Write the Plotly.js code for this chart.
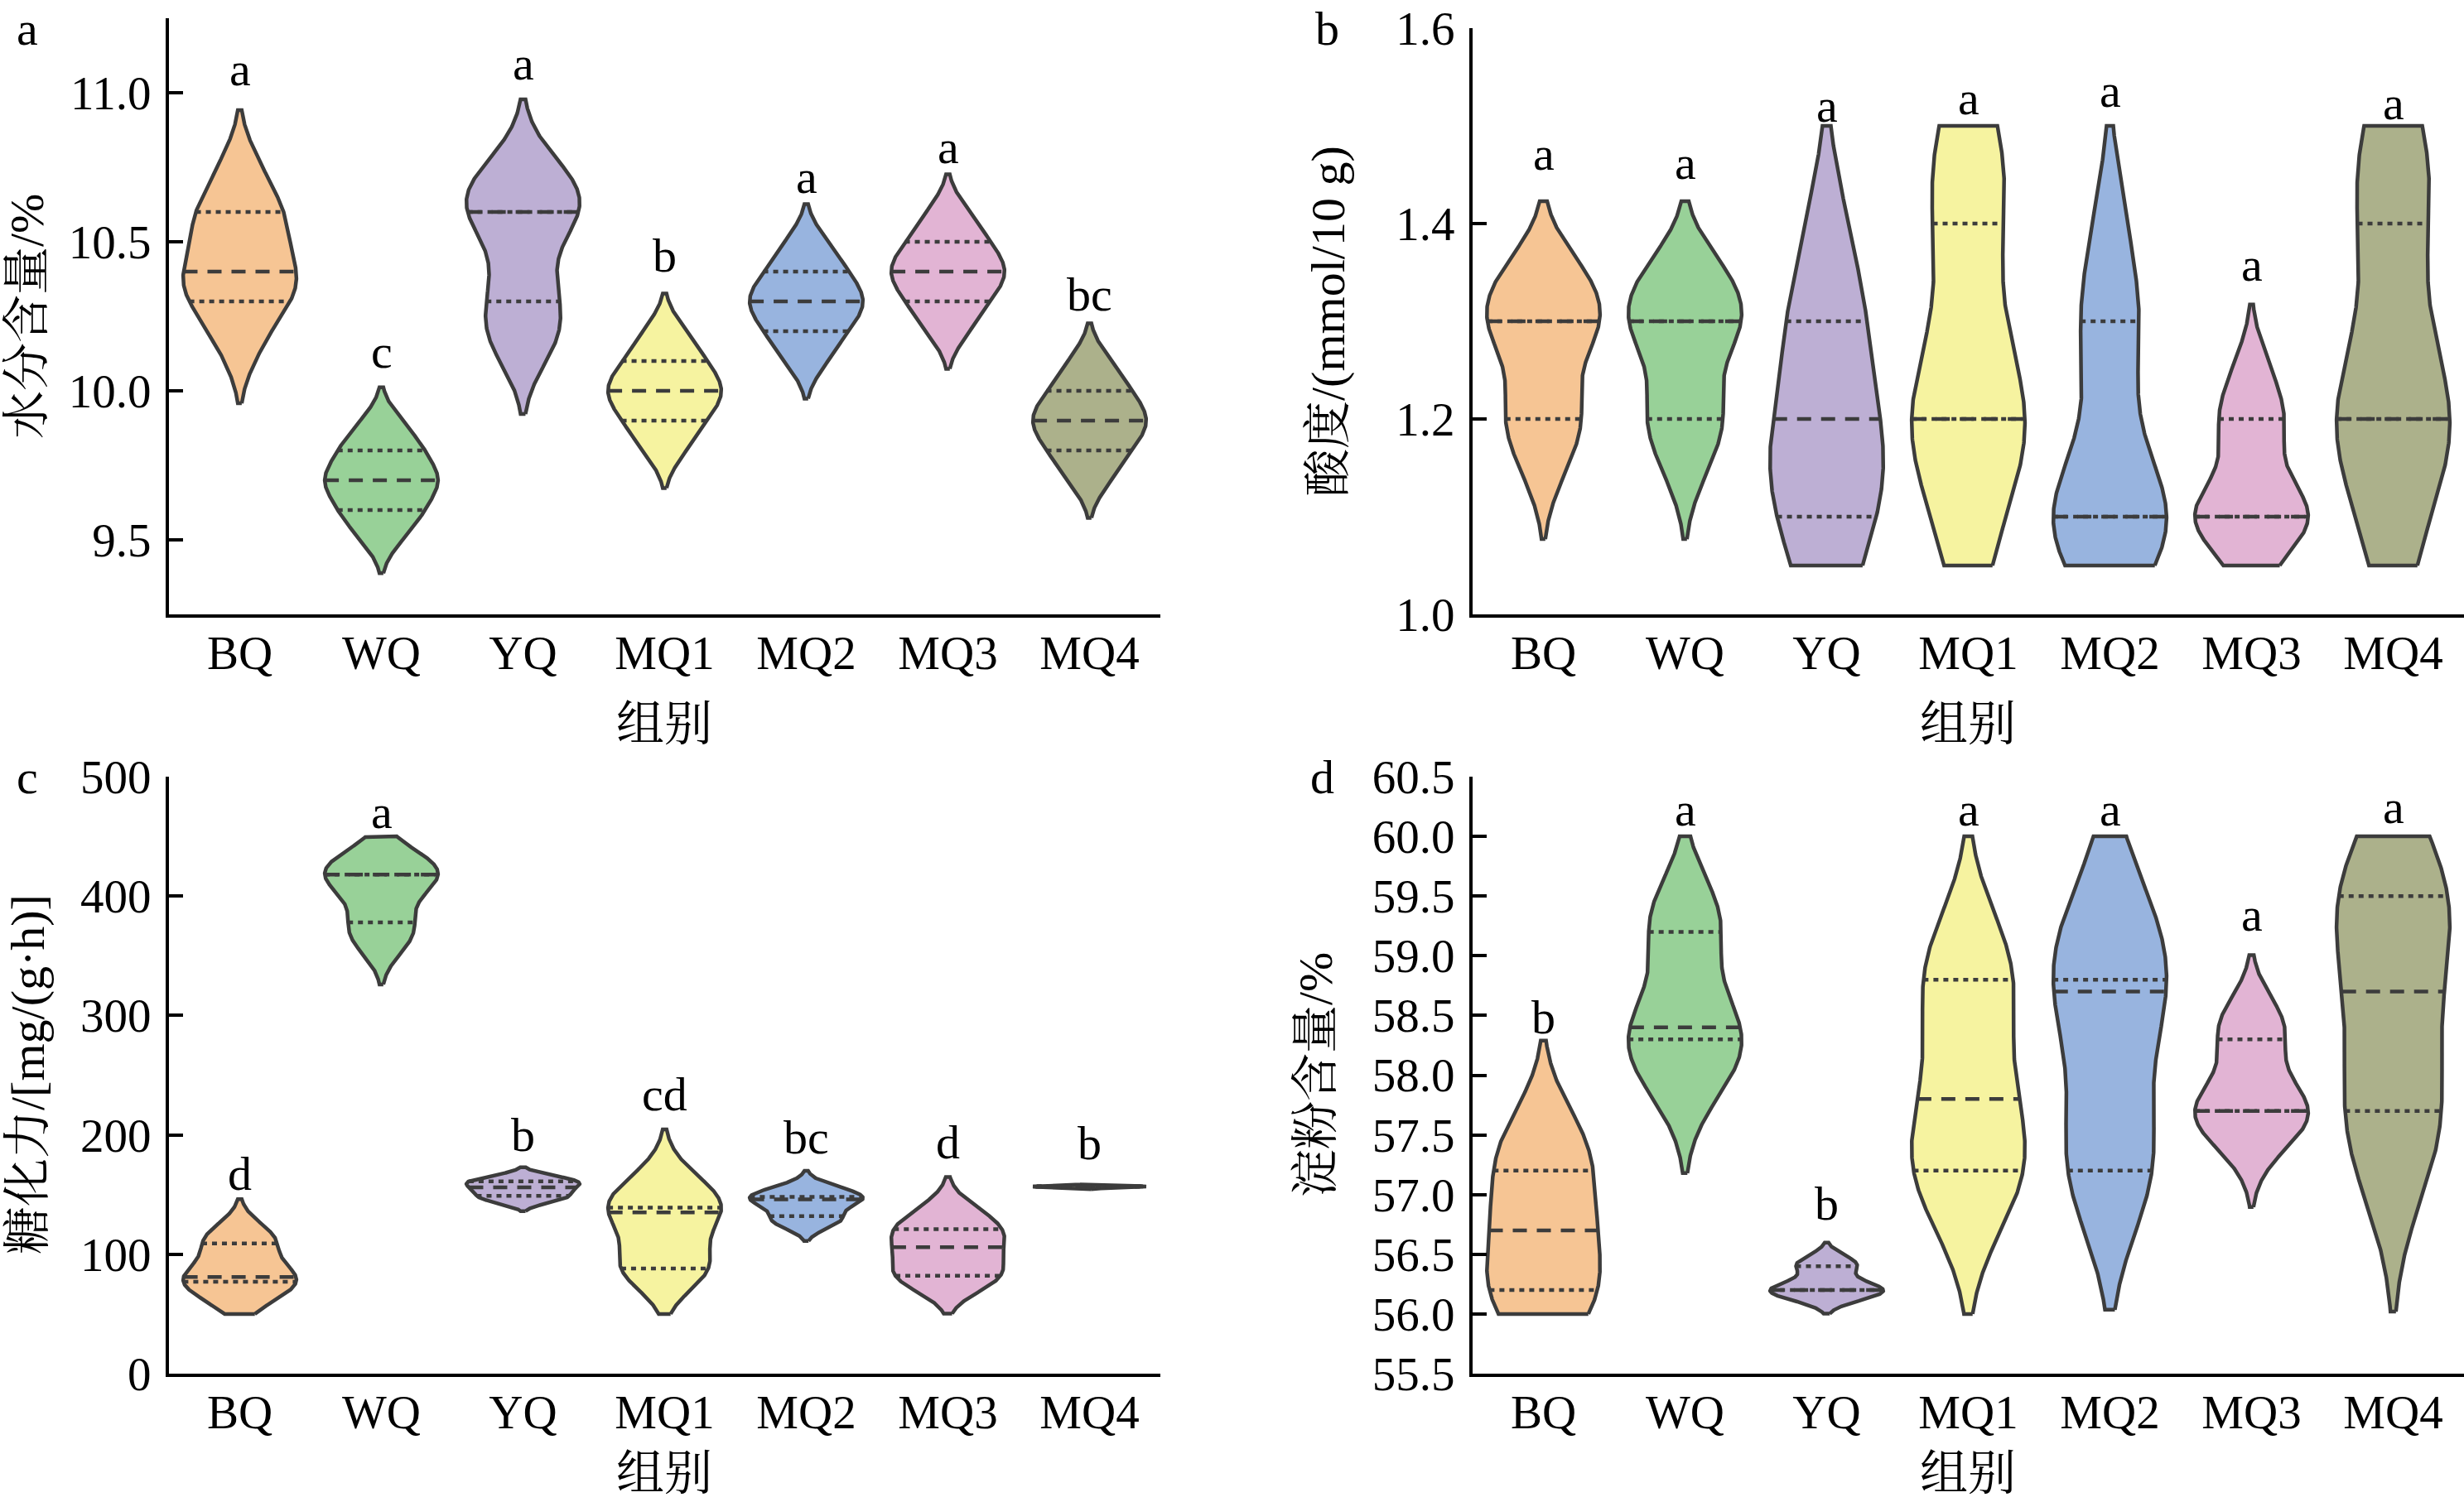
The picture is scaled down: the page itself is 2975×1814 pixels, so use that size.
<!DOCTYPE html>
<html>
<head>
<meta charset="utf-8">
<script src="https://cdn.plot.ly/plotly-3.0.1.min.js"></script>
<style>
html,body{margin:0;padding:0;background:#ffffff;}
#chart{width:2975px;height:1814px;}
</style>
</head>
<body>
<div id="chart"></div>
<script>
// ---------------- data ----------------
const groups = ['BQ', 'WQ', 'YQ', 'MQ1', 'MQ2', 'MQ3', 'MQ4'];

// a: moisture content /%
const moistureData = [
  [10.15, 10.3, 10.3, 10.4, 10.4, 10.5, 10.6, 10.6, 10.75],
  [9.51, 9.6, 9.6, 9.7, 9.7, 9.7, 9.8, 9.8, 9.89],
  [10.15, 10.2, 10.3, 10.4, 10.6, 10.6, 10.6, 10.7, 10.75],
  [9.8, 9.9, 9.9, 10.0, 10.0, 10.0, 10.1, 10.1, 10.2],
  [10.1, 10.2, 10.2, 10.3, 10.3, 10.3, 10.4, 10.4, 10.5],
  [10.2, 10.3, 10.3, 10.4, 10.4, 10.4, 10.5, 10.5, 10.6],
  [9.7, 9.8, 9.8, 9.9, 9.9, 9.9, 10.0, 10.0, 10.1]
];
const moistureLetters = ['a', 'c', 'a', 'b', 'a', 'a', 'bc'];
const moistureLetterY = [11.027, 10.08, 11.048, 10.403, 10.666, 10.766, 10.273];
const moistureTicks = [9.5, 10.0, 10.5, 11.0];

// b: acidity /(mmol/10 g)
const acidityData = [
  [1.15, 1.2, 1.2, 1.25, 1.3, 1.3, 1.3, 1.35, 1.35],
  [1.15, 1.2, 1.2, 1.25, 1.3, 1.3, 1.3, 1.35, 1.35],
  [1.0, 1.1, 1.1, 1.15, 1.2, 1.2, 1.3, 1.3, 1.4],
  [1.05, 1.15, 1.2, 1.2, 1.2, 1.3, 1.4, 1.45, 1.5],
  [1.05, 1.1, 1.1, 1.1, 1.1, 1.2, 1.3, 1.3, 1.4],
  [1.05, 1.1, 1.1, 1.1, 1.1, 1.15, 1.2, 1.2, 1.25],
  [1.05, 1.15, 1.2, 1.2, 1.2, 1.3, 1.4, 1.45, 1.5]
];
const acidityLetters = ['a', 'a', 'a', 'a', 'a', 'a', 'a'];
const acidityLetterY = [1.456, 1.447, 1.505, 1.513, 1.520, 1.342, 1.508];
const acidityTicks = [1.0, 1.2, 1.4, 1.6];

// c: saccharifying power /[mg/(g·h)]
const saccharData = [
  [60, 70, 77, 80, 81, 90, 109, 110, 120],
  [360, 370, 378, 400, 418, 418, 418, 425, 432],
  [145, 147, 149, 153, 156, 158, 161, 162, 164],
  [85, 88, 88, 112, 135, 137, 139, 150, 166],
  [125, 128, 132, 140, 146, 147, 148, 150, 156],
  [78, 80, 82, 95, 106, 112, 121, 125, 137],
  [155.5, 156, 156.5, 156.5, 156.7, 157, 157, 157.5, 158]
];
const saccharLetters = ['d', 'a', 'b', 'cd', 'bc', 'd', 'b'];
const saccharLetterY = [154.8, 458, 187, 221.5, 185, 181, 180];
const saccharTicks = [0, 100, 200, 300, 400, 500];

// d: starch content /%
const starchData = [
  [56.0, 56.1, 56.2, 56.5, 56.7, 56.9, 57.2, 57.4, 57.55],
  [57.9, 58.05, 58.3, 58.3, 58.4, 58.6, 59.2, 59.3, 59.4],
  [56.15, 56.17, 56.2, 56.2, 56.2, 56.25, 56.4, 56.4, 56.45],
  [57.0, 57.1, 57.2, 57.5, 57.8, 58.2, 58.8, 58.9, 59.0],
  [57.2, 57.2, 57.2, 58.0, 58.7, 58.7, 58.8, 59.2, 59.5],
  [57.4, 57.6, 57.7, 57.7, 57.7, 57.9, 58.3, 58.4, 58.5],
  [57.25, 57.5, 57.7, 58.2, 58.7, 59.1, 59.5, 59.6, 59.7]
];
const starchLetters = ['b', 'a', 'b', 'a', 'a', 'a', 'a'];
const starchLetterY = [58.36, 60.1, 56.8, 60.1, 60.1, 59.22, 60.12];
const starchTicks = [55.5, 56.0, 56.5, 57.0, 57.5, 58.0, 58.5, 59.0, 59.5, 60.0, 60.5];

const violinColors = ['#F6C594', '#98D198', '#BDAFD4', '#F6F3A0', '#98B4DF', '#E2B4D4', '#ACB18B'];

// ---------------- style ----------------
const FONT = 'Liberation Serif, "Noto Serif CJK SC", "Noto Sans CJK SC", serif';
const OUTLINE = '#3c3c3c';
const HALF = 0.4;      // half violin width in category units
const CUT = 2;         // kde extends CUT bandwidths beyond the data
const W = 2975, H = 1814;

function quantile(s, p) {
  const pos = (s.length - 1) * p;
  const lo = Math.floor(pos), hi = Math.ceil(pos);
  return s[lo] + (s[hi] - s[lo]) * (pos - lo);
}

function violins(data, ax, clip, adj) {
  const traces = [];
  const xa = 'x' + ax, ya = 'y' + ax;
  data.forEach((vals, i) => {
    const s = vals.slice().sort((a, b) => a - b);
    const n = s.length;
    const mean = s.reduce((a, b) => a + b, 0) / n;
    const sd = Math.sqrt(s.reduce((a, v) => a + (v - mean) * (v - mean), 0) / (n - 1));
    const bw = adj * sd * Math.pow(n, -0.2);
    const lo = Math.max(s[0] - CUT * bw, clip[0]);
    const hi = Math.min(s[n - 1] + CUT * bw, clip[1]);
    const dens = y => s.reduce((a, v) => a + Math.exp(-0.5 * ((y - v) / bw) * ((y - v) / bw)), 0);
    const N = 400, ys = [], ds = [];
    for (let k = 0; k < N; k++) {
      const y = lo + (hi - lo) * k / (N - 1);
      ys.push(y); ds.push(dens(y));
    }
    const dmax = Math.max(...ds);
    const half = d => HALF * d / dmax;
    const px = [], py = [];
    for (let k = 0; k < N; k++) { px.push(i + half(ds[k])); py.push(ys[k]); }
    for (let k = N - 1; k >= 0; k--) { px.push(i - half(ds[k])); py.push(ys[k]); }
    px.push(px[0]); py.push(py[0]);
    traces.push({
      type: 'scatter', mode: 'lines', x: px, y: py, fill: 'toself',
      fillcolor: violinColors[i], line: {color: OUTLINE, width: 4.5},
      xaxis: xa, yaxis: ya, hoverinfo: 'skip', showlegend: false
    });
    [0.25, 0.5, 0.75].forEach(p => {
      const q = quantile(s, p);
      const h = half(dens(q));
      traces.push({
        type: 'scatter', mode: 'lines', x: [i - h, i + h], y: [q, q],
        line: {color: OUTLINE, width: 4.5, dash: p === 0.5 ? '17px,12px' : '6px,6px'},
        xaxis: xa, yaxis: ya, hoverinfo: 'skip', showlegend: false
      });
    });
  });
  return traces;
}

const traces = [].concat(
  violins(moistureData, '', [-Infinity, Infinity], 0.8),
  violins(acidityData, '2', [1.05, 1.5], 0.8),
  violins(saccharData, '3', [50, 450], 1.0),
  violins(starchData, '4', [56, 60], 1.0)
);

const colL = [204 / W, 1401 / W], colR = [1778 / W, 1];
const rowT = [1 - 742 / H, 1 - 22 / H], rowT2 = [1 - 742 / H, 1 - 34 / H];
const rowB = [1 - 1659 / H, 1 - 938 / H];

function xAxis(domain, anchor) {
  return {
    domain: domain, anchor: anchor, range: [-0.5, 6.5],
    tickvals: groups.map((g, i) => i), ticktext: groups,
    ticks: '', showline: true, linecolor: '#000', linewidth: 4,
    showgrid: false, zeroline: false, ticklabelstandoff: -6,
    tickfont: {family: FONT, size: 57, color: '#000'}, fixedrange: true
  };
}
function yAxis(domain, anchor, range, tickvals, fmt) {
  const pad = (range[1] - range[0]) * 1e-5;
  return {
    domain: domain, anchor: anchor, range: [range[0] - pad, range[1] + pad],
    tickvals: tickvals, tickformat: fmt,
    ticks: 'inside', ticklen: 17, tickwidth: 4, tickcolor: '#000',
    showline: true, linecolor: '#000', linewidth: 4,
    showgrid: false, zeroline: false, ticklabelstandoff: 6,
    ticklabeloverflow: 'allow',
    tickfont: {family: FONT, size: 57, color: '#000'}, fixedrange: true
  };
}

const annotations = [];
function letters(labels, ys, ax) {
  labels.forEach((t, i) => annotations.push({
    text: t, x: i, y: ys[i], xref: 'x' + ax, yref: 'y' + ax,
    xanchor: 'center', yanchor: 'bottom', yshift: -16, showarrow: false,
    font: {family: FONT, size: 58, color: '#000'}
  }));
}
letters(moistureLetters, moistureLetterY, '');
letters(acidityLetters, acidityLetterY, '2');
letters(saccharLetters, saccharLetterY, '3');
letters(starchLetters, starchLetterY, '4');

function paperText(text, xpx, ypx, opts) {
  annotations.push(Object.assign({
    text: text, x: xpx / W, y: 1 - ypx / H, xref: 'paper', yref: 'paper',
    showarrow: false, font: {family: FONT, size: 58, color: '#000'}
  }, opts));
}
// panel labels
paperText('a', 18, 0, {xanchor: 'left', yanchor: 'top'});
paperText('b', 1586, 0, {xanchor: 'left', yanchor: 'top'});
paperText('c', 18, 973, {xanchor: 'left', yanchor: 'bottom'});
paperText('d', 1580, 973, {xanchor: 'left', yanchor: 'bottom'});
// y titles
paperText('水分含量/%', 33, 382, {xanchor: 'center', yanchor: 'middle', textangle: -90});
paperText('酸度/(mmol/10 g)', 1603, 388, {xanchor: 'center', yanchor: 'middle', textangle: -90});
paperText('糖化力/[mg/(g·h)]', 33, 1298, {xanchor: 'center', yanchor: 'middle', textangle: -90});
paperText('淀粉含量/%', 1588, 1298, {xanchor: 'center', yanchor: 'middle', textangle: -90});
// x titles
paperText('组别', 802, 874, {xanchor: 'center', yanchor: 'middle'});
paperText('组别', 2376, 874, {xanchor: 'center', yanchor: 'middle'});
paperText('组别', 802, 1814, {xanchor: 'center', yanchor: 'bottom'});
paperText('组别', 2376, 1814, {xanchor: 'center', yanchor: 'bottom'});

const layout = {
  width: W, height: H, margin: {l: 0, r: 0, t: 0, b: 0},
  paper_bgcolor: '#ffffff', plot_bgcolor: 'rgba(0,0,0,0)',
  showlegend: false, font: {family: FONT, size: 56, color: '#000'},
  xaxis: xAxis(colL, 'y'), yaxis: yAxis(rowT, 'x', [9.25, 11.25], moistureTicks, '.1f'),
  xaxis2: xAxis(colR, 'y2'), yaxis2: yAxis(rowT2, 'x2', [1.0, 1.6], acidityTicks, '.1f'),
  xaxis3: xAxis(colL, 'y3'), yaxis3: yAxis(rowB, 'x3', [0, 500], saccharTicks, 'd'),
  xaxis4: xAxis(colR, 'y4'), yaxis4: yAxis(rowB, 'x4', [55.5, 60.5], starchTicks, '.1f'),
  annotations: annotations
};

Plotly.newPlot('chart', traces, layout, {staticPlot: true, displayModeBar: false});
</script>
</body>
</html>
